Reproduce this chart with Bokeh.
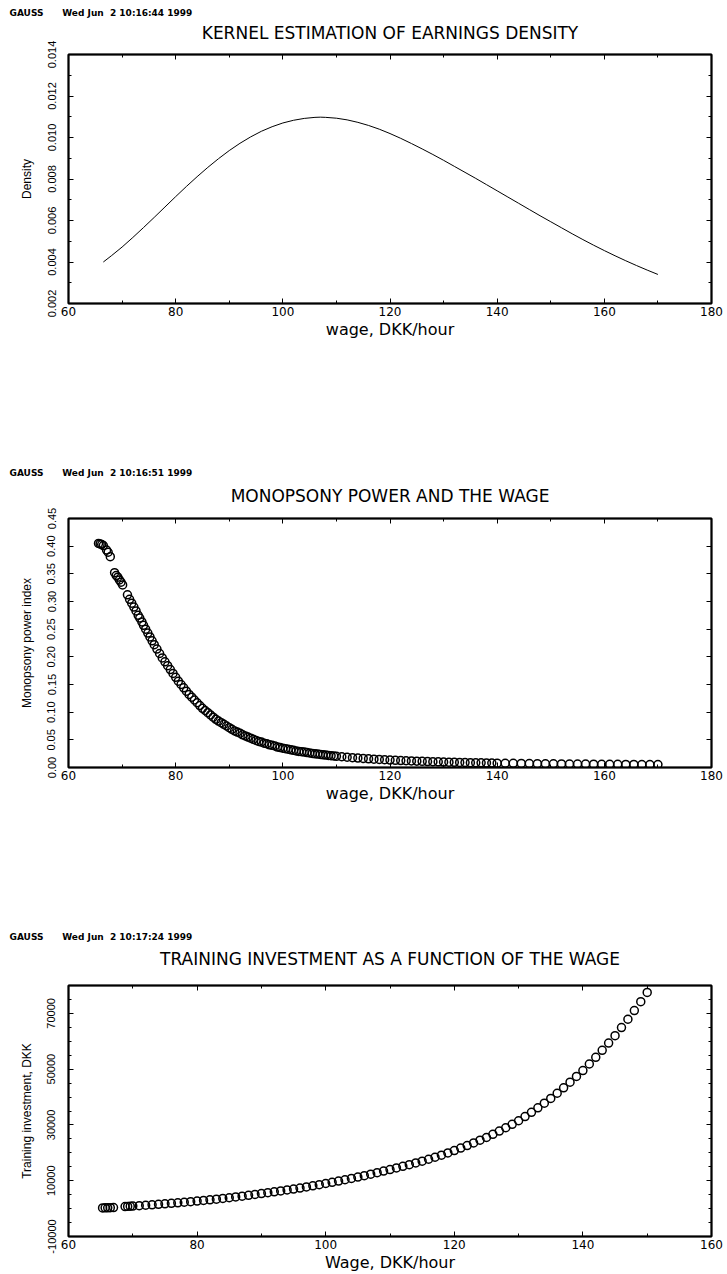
from bokeh.plotting import figure
from bokeh.layouts import column
from bokeh.models import Range1d, FixedTicker, PrintfTickFormatter, LinearAxis, Title
from bokeh.embed import file_html
from bokeh.resources import INLINE

# ---------------- data ----------------
program = "GAUSS"
stamps = ["Wed Jun\u00a0\u00a02 10:16:44 1999", "Wed Jun\u00a0\u00a02 10:16:51 1999", "Wed Jun\u00a0\u00a02 10:17:24 1999"]
titles = ["KERNEL ESTIMATION OF EARNINGS DENSITY",
          "MONOPSONY POWER AND THE WAGE",
          "TRAINING INVESTMENT AS A FUNCTION OF THE WAGE"]
xlabels = ["wage, DKK/hour", "wage, DKK/hour", "Wage, DKK/hour"]
ylabels = ["Density", "Monopsony power index", "Training investment, DKK"]

# panel 1: kernel density of wages
wage_dens = [66.5, 68, 70, 72, 74, 76, 78, 80, 82, 84, 86, 88, 90, 92, 94, 96, 98, 100,
             102, 104, 106, 107, 108, 110, 112, 114, 116, 118, 120, 122, 124, 126, 128,
             130, 132, 134, 136, 138, 140, 142, 144, 146, 148, 150, 152, 154, 156, 158,
             160, 162, 164, 166, 168, 170]
density = [.00400, .00430, .00472, .00518, .00566, .00615, .00665, .00715, .00764, .00811,
           .00856, .00898, .00937, .00972, .01003, .01030, .01052, .01070, .01083, .01092,
           .01097, .01098, .01097, .01093, .01085, .01073, .01058, .01040, .01019, .00996,
           .00971, .00945, .00918, .00890, .00861, .00832, .00803, .00773, .00743, .00713,
           .00683, .00653, .00623, .00594, .00565, .00536, .00508, .00481, .00455, .00430,
           .00406, .00383, .00361, .00340]

# panel 2: monopsony power index
wage_mono = [65.6, 65.9, 66.2, 66.5, 67.1, 67.4, 67.8, 68.6, 68.9, 69.2, 69.5, 69.8, 70.1,
             71.0, 71.4, 71.8, 72.2, 72.6, 73.0, 73.3, 73.7, 74.0, 74.4, 74.8, 75.2, 75.6, 76.0,
             76.5, 77.0, 77.5, 78.0, 78.5, 79.0, 79.5, 80.0, 80.5, 81.0, 81.5, 82.0, 82.5, 83.0,
             83.5, 84.0, 84.5, 85.0, 85.5, 86.0, 86.5, 87.0, 87.5, 88.0, 88.5, 89.0, 89.5, 90.0,
             90.5, 91.0, 91.5, 92.0, 92.5, 93.0, 93.5, 94.0, 94.5, 95.0, 95.5, 96.0, 96.5, 97.0,
             97.5, 98.0, 98.5, 99.0, 99.5, 100.0, 100.5, 101.0, 101.5, 102.0, 102.5, 103.0, 103.5, 104.0,
             104.5, 105.0, 105.5, 106.0, 106.5, 107.0, 107.5, 108.0, 108.5, 109.0, 109.5, 110.0,
             111, 112, 113, 114, 115, 116, 117, 118, 119, 120, 121, 122, 123, 124, 125,
             126, 127, 128, 129, 130, 131, 132, 133, 134, 135, 136, 137, 138, 139, 140,
             141.5, 143, 144.5, 146, 147.5, 149, 150.5, 152, 153.5, 155, 156.5, 158, 159.5,
             161, 162.5, 164, 165.5, 167, 168.5, 170]
mono = [.405, .404, .403, .401, .393, .389, .381, .352, .347, .344, .339, .335, .330,
        .312, .304, .297, .290, .283, .275, .270, .263, .257, .250, .243, .236, .229, .222,
        .214, .206, .198, .191, .184, .177, .170, .163, .156, .150, .144, .138, .132, .127,
        .122, .117, .112, .107, .103, .099, .095, .091, .087, .084, .081, .078, .075, .072,
        .069, .066, .064, .062, .059, .057, .055, .053, .051, .049, .047, .046, .044, .043,
        .041, .040, .039, .037, .036, .035, .034, .033, .032, .031, .030, .029, .0285, .0278,
        .0270, .0262, .0255, .0248, .0242, .0236, .0230, .0224, .0219, .0213, .0208, .0203,
        .0194, .0185, .0177, .0170, .0163, .0157, .0151, .0145, .0140, .0135, .0130, .0126, .0122, .0118, .0114,
        .0111, .0108, .0105, .0102, .0099, .0097, .0094, .0092, .0090, .0088, .0086, .0084, .0082, .0080, .0079,
        .0077, .0075, .0073, .0071, .0069, .0068, .0066, .0065, .0063, .0062, .0061, .0060, .0059,
        .0058, .0057, .0056, .0055, .0054, .0053, .0052]

# panel 3: training investment
wage_train = [65.3, 65.7, 66.1, 66.5, 67.0, 68.8, 69.2, 69.6, 70.0,
              71, 72, 73, 74, 75, 76, 77, 78, 79, 80, 81, 82, 83, 84, 85, 86, 87, 88, 89, 90,
              91, 92, 93, 94, 95, 96, 97, 98, 99, 100, 101, 102, 103, 104, 105, 106, 107, 108,
              109, 110, 111, 112, 113, 114, 115, 116, 117, 118, 119, 120, 121, 122, 123, 124,
              125, 126, 127, 128, 129, 130, 131, 132, 133, 134, 135, 136, 137, 138, 139, 140,
              141, 142, 143, 144, 145, 146, 147, 148, 149, 150]
invest = [250, 280, 300, 330, 360, 750, 800, 850, 900,
          1050, 1200, 1350, 1520, 1700, 1890, 2080, 2280, 2490, 2700,
          2930, 3160, 3400, 3650, 3900, 4180, 4470, 4770, 5080, 5400,
          5710, 6030, 6350, 6680, 7000, 7380, 7770, 8170, 8580, 9000,
          9440, 9890, 10350, 10820, 11300, 11820, 12350, 12900, 13450, 14000,
          14580, 15170, 15770, 16380, 17000, 17700, 18420, 19170, 19960, 20800,
          21700, 22620, 23560, 24520, 25500, 26630, 27790, 28990, 30230, 31500,
          32990, 34530, 36130, 37790, 39500, 41370, 43310, 45330, 47400, 49500,
          51850, 54250, 56750, 59350, 62000, 64900, 67900, 71000, 74200, 77500]

# axes ticks
x_major_180 = [60, 80, 100, 120, 140, 160, 180]
x_minor_180 = [70, 90, 110, 130, 150, 170]
x_major_160 = [60, 80, 100, 120, 140, 160]
x_minor_160 = [70, 90, 110, 130, 150]
y1_major = [0.002, 0.004, 0.006, 0.008, 0.010, 0.012, 0.014]
y1_minor = [0.003, 0.005, 0.007, 0.009, 0.011, 0.013]
y2_major = [0.0, 0.05, 0.10, 0.15, 0.20, 0.25, 0.30, 0.35, 0.40, 0.45]
y2_minor = []
y3_major = [-10000, 10000, 30000, 50000, 70000]
y3_minor = [-5000, 0, 5000, 15000, 20000, 25000, 35000, 40000, 45000, 55000, 60000, 65000, 75000, 80000]

W = 727
FONT = "DejaVu Sans"
SANS = "Liberation Sans"
NB = "\u00a0"


def style_axis(ax, show_labels):
    ax.axis_line_color = "black"
    ax.axis_line_width = 1.5
    ax.major_tick_in = 5
    ax.major_tick_out = 0
    ax.minor_tick_in = 3
    ax.minor_tick_out = 0
    ax.major_tick_line_color = "black"
    ax.minor_tick_line_color = "black"
    if not show_labels:
        ax.major_label_text_font_size = "1px"
        ax.major_label_text_color = None
        ax.major_label_text_alpha = 0
        ax.major_label_standoff = 0


def panel(height, btop, frame_h, title_gap, head_standoff, xr, yr, xmaj, xmin, ymaj, ymin,
          yfmt, stamp, title, xlabel, ylabel):
    p = figure(width=W, height=height, x_range=Range1d(*xr), y_range=Range1d(*yr),
               toolbar_location=None, output_backend="svg",
               min_border_left=68, min_border_right=16, min_border_top=btop,
               min_border_bottom=height - btop - frame_h)
    p.grid.visible = False
    p.outline_line_color = "black"
    p.outline_line_width = 2
    p.outline_line_alpha = 1
    xt = FixedTicker(ticks=xmaj, minor_ticks=xmin)
    yt = FixedTicker(ticks=ymaj, minor_ticks=ymin)
    xa = p.xaxis[0]
    ya = p.yaxis[0]
    xa.ticker = xt
    ya.ticker = yt
    ya.formatter = PrintfTickFormatter(format=yfmt)
    style_axis(xa, True)
    style_axis(ya, True)
    xa.major_label_text_font = FONT
    xa.major_label_text_font_size = "12px"
    xa.major_label_text_color = "black"
    xa.major_label_standoff = 3
    xa.axis_label = xlabel
    xa.axis_label_text_font = FONT
    xa.axis_label_text_font_size = "16px"
    xa.axis_label_text_font_style = "normal"
    xa.axis_label_text_color = "black"
    xa.axis_label_standoff = 1
    ya.major_label_orientation = "vertical"
    ya.major_label_text_font = SANS
    ya.major_label_text_font_size = "11px"
    ya.major_label_text_color = "black"
    ya.major_label_standoff = 13
    ya.axis_label = ylabel
    ya.axis_label_text_font = SANS
    ya.axis_label_text_font_size = "12px"
    ya.axis_label_text_font_style = "normal"
    ya.axis_label_text_color = "black"
    ya.axis_label_standoff = 11
    # top axis: ticks only, carries the chart title as its label
    top = LinearAxis(ticker=xt)
    style_axis(top, False)
    top.axis_label = title
    top.axis_label_text_font = FONT
    top.axis_label_text_font_size = "17px"
    top.axis_label_text_font_style = "normal"
    top.axis_label_text_color = "black"
    top.axis_label_standoff = title_gap
    p.add_layout(top, "above")
    right = LinearAxis(ticker=yt)
    style_axis(right, False)
    p.add_layout(right, "right")
    p.add_layout(Title(text=program + NB * 6 + stamp, align="left", offset=-59,
                       text_font=FONT, text_font_size="9px", text_font_style="bold",
                       text_color="black", standoff=head_standoff), "above")
    return p


p1 = panel(460, 54, 249, 12, 3, (60, 180), (0.002, 0.014), x_major_180, x_minor_180,
           y1_major, y1_minor, "%.3f", stamps[0], titles[0], xlabels[0], ylabels[0])
p1.line(wage_dens, density, line_color="black", line_width=1)

p2 = panel(465, 56, 251, 13, 10, (60, 180), (0.0, 0.45), x_major_180, x_minor_180,
           y2_major, y2_minor, "%.2f", stamps[1], titles[1], xlabels[1], ylabels[1])
p2.scatter(wage_mono, mono, marker="circle", size=8, fill_color=None,
           line_color="black", line_width=1.5)

p3 = panel(349, 60, 251, 17, 8, (60, 160), (-10000, 80000), x_major_160, x_minor_160,
           y3_major, y3_minor, "%d", stamps[2], titles[2], xlabels[2], ylabels[2])
p3.scatter(wage_train, invest, marker="circle", size=8, fill_color=None,
           line_color="black", line_width=1.5)

layout = column(p1, p2, p3, spacing=0)
open("out.html", "w").write(file_html(layout, INLINE))
